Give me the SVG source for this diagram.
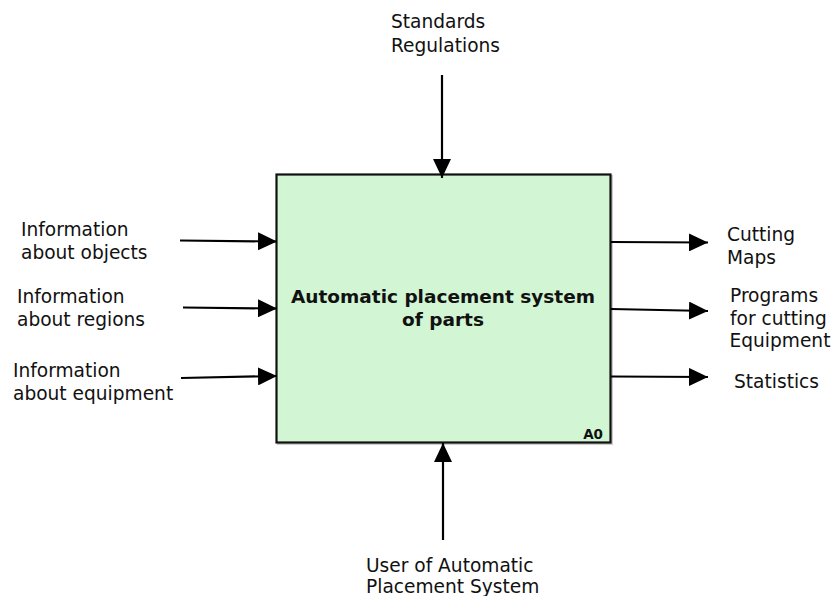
<svg xmlns="http://www.w3.org/2000/svg" width="831" height="596" viewBox="0 0 831 596">
<style>
.lbl{font-family:"DejaVu Sans","Liberation Sans",sans-serif;font-size:18.6px;fill:#111}
.ttl{font-family:"DejaVu Sans","Liberation Sans",sans-serif;font-size:18.5px;font-weight:bold;fill:#111}
.code{font-family:"DejaVu Sans","Liberation Sans",sans-serif;font-size:13.5px;font-weight:bold;fill:#111}
.conn path{fill:none;stroke:#000;stroke-width:2.2}
</style>
<defs>
<marker id="ah" viewBox="0 0 19 18" refX="19" refY="9" markerWidth="19" markerHeight="18" markerUnits="userSpaceOnUse" orient="auto">
<path d="M0,0 L19,9 L0,18 z" fill="#000"/>
</marker>
</defs>
<rect width="831" height="596" fill="#fff"/>
<g id="A0">
<rect x="278" y="176" width="334" height="268" fill="none" stroke="#999" stroke-opacity="0.5" stroke-width="2"/>
<rect x="276.5" y="174.5" width="334" height="268" fill="#d2f5d3" stroke="#111" stroke-width="2.2"/>
<text class="ttl" x="443" y="303" text-anchor="middle">Automatic placement system</text>
<text class="ttl" x="443" y="325.5" text-anchor="middle">of parts</text>
<text class="code" x="603" y="439" text-anchor="end">A0</text>
</g>
<g class="conn" id="connectors">
<path d="M442,75 L442,178" marker-end="url(#ah)"/>
<path d="M443,540 L443,443" marker-end="url(#ah)"/>
<path d="M180,240.5 L277,241.5" marker-end="url(#ah)"/>
<path d="M183,307.5 L277,308.5" marker-end="url(#ah)"/>
<path d="M181,378 L277,376" marker-end="url(#ah)"/>
<path d="M611,242 L708,242.5" marker-end="url(#ah)"/>
<path d="M611,309 L708,311" marker-end="url(#ah)"/>
<path d="M611,376.5 L708,377" marker-end="url(#ah)"/>
</g>
<g id="control">
<text class="lbl" x="391" y="28">Standards</text>
<text class="lbl" x="391" y="51.5">Regulations</text>
</g>
<g id="mechanism">
<text class="lbl" x="366" y="571.5">User of Automatic</text>
<text class="lbl" x="366" y="593">Placement System</text>
</g>
<g id="input1">
<text class="lbl" x="21" y="236">Information</text>
<text class="lbl" x="21" y="259">about objects</text>
</g>
<g id="input2">
<text class="lbl" x="17" y="302.5">Information</text>
<text class="lbl" x="17" y="325.5">about regions</text>
</g>
<g id="input3">
<text class="lbl" x="13" y="377">Information</text>
<text class="lbl" x="13" y="400">about equipment</text>
</g>
<g id="output1">
<text class="lbl" x="727" y="241">Cutting</text>
<text class="lbl" x="727" y="264">Maps</text>
</g>
<g id="output2">
<text class="lbl" x="730" y="302">Programs</text>
<text class="lbl" x="730" y="324.5">for cutting</text>
<text class="lbl" x="729.5" y="347">Equipment</text>
</g>
<g id="output3">
<text class="lbl" x="734" y="388">Statistics</text>
</g>
</svg>
